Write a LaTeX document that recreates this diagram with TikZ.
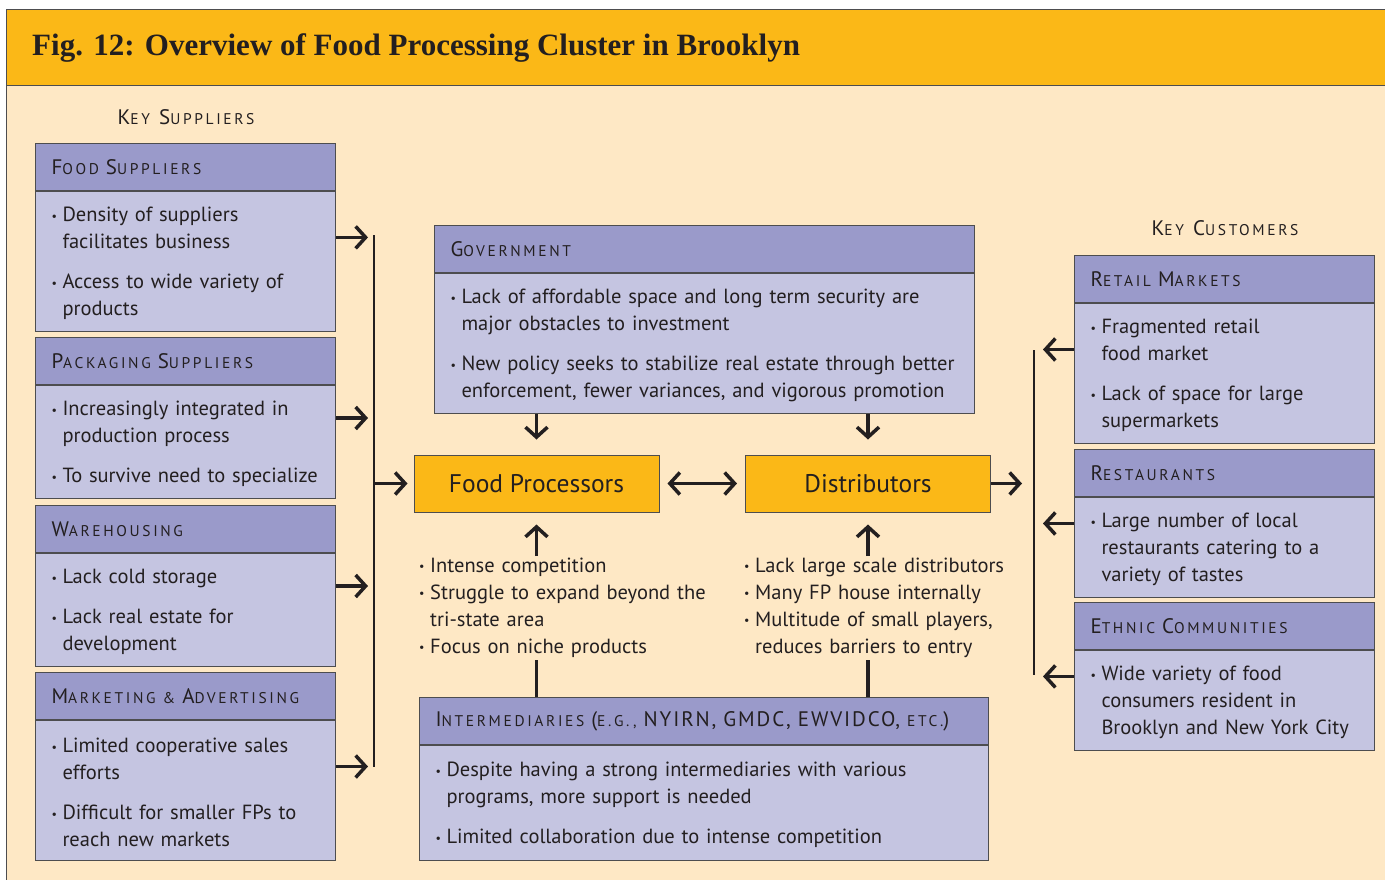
\documentclass[tikz,border=0pt]{standalone}
\usepackage{fontspec}
\setmainfont{PT Sans}
\newfontfamily\titlefont{Liberation Serif}
\newfontfamily\capsfont[LetterSpace=17]{PT Sans}
\usetikzlibrary{positioning,calc,arrows.meta}

\definecolor{banner}{HTML}{FBB817}
\definecolor{cream}{HTML}{FEE8C5}
\definecolor{hdrfill}{HTML}{9A9ACA}
\definecolor{bodyfill}{HTML}{C5C5E1}
\definecolor{edge}{HTML}{4D4D4F}
\definecolor{ink}{HTML}{231F20}

% small-cap part of a heading
\newcommand\smc[1]{{\fontsize{15.5}{15.5}\selectfont #1}}
% bullet item with hanging indent
\newcommand\bl[1]{\par\noindent\hangindent=11pt\hangafter=1\makebox[11pt][l]{\raisebox{1.5pt}{\fontsize{12}{12}\selectfont\textbullet}}#1\par}
\newcommand\gap{\vspace{13pt}}

\begin{document}
\begin{tikzpicture}[x=1pt,y=-1pt,
    hdr/.style={draw=edge, fill=hdrfill, text=ink, line width=1pt,
      font=\capsfont\fontsize{21}{21}\selectfont, text width=#1,
      inner xsep=16pt, minimum height=47pt, align=left, anchor=north west},
    hdr/.default=268pt,
    bdy/.style={draw=edge, fill=bodyfill, text=ink, line width=1pt,
      font=\fontsize{20.5}{27}\selectfont, text width=#1,
      inner xsep=16pt, align=left, execute at end node={\vspace{8pt}}},
    bdy/.default=268pt,
    core/.style={draw=edge, fill=banner, text=ink, line width=1pt,
      font=\fontsize{25.5}{25.5}\selectfont, minimum width=245pt, minimum height=57pt},
    note/.style={text=ink, font=\fontsize{20.5}{27}\selectfont, text width=#1,
      inner sep=0pt, align=left, anchor=north west},
    label/.style={text=ink, font=\capsfont\fontsize{21}{21}\selectfont},
    arr/.style={draw=ink, line width=3.5pt, -{Straight Barb[length=10pt,width=22pt,line width=3.5pt]}},
    arrs/.style={draw=ink, line width=3.5pt, {Straight Barb[length=10pt,width=22pt,line width=3.5pt]}-{Straight Barb[length=10pt,width=22pt,line width=3.5pt]}},
    stem/.style={draw=ink, line width=3.5pt},
    bar/.style={draw=ink, line width=1.2pt}]

\useasboundingbox (0,0) rectangle (1385,879);
\fill[white] (0,0) rectangle (1385,879);
\draw[edge, fill=cream, line width=1pt] (6,9) rectangle (1400,900);
\draw[edge, fill=banner, line width=1pt] (6,9) rectangle (1400,85);
\node[anchor=west, inner sep=0pt, text=ink, font=\titlefont\bfseries\fontsize{31}{31}\selectfont] (title) at (32,48)
  {Fig. 12: Overview of Food Processing Cluster in Brooklyn};

% key suppliers
\node[label] (ksup) at (186,117) {K\smc{EY} S\smc{UPPLIERS}};
\node[hdr] (fsh) at (35,143) {F\smc{OOD} S\smc{UPPLIERS}};
\node[bdy, below=0pt of fsh, minimum height=139pt] (fsb)
  {\bl{Density of suppliers\newline facilitates business}\gap\bl{Access to wide variety of\newline products}};
\node[hdr] (psh) at (35,337) {P\smc{ACKAGING} S\smc{UPPLIERS}};
\node[bdy, below=0pt of psh, minimum height=113pt] (psb)
  {\bl{Increasingly integrated in\newline production process}\gap\bl{To survive need to specialize}};
\node[hdr] (whh) at (35,505) {W\smc{AREHOUSING}};
\node[bdy, below=0pt of whh, minimum height=113pt] (whb)
  {\bl{Lack cold storage}\gap\bl{Lack real estate for\newline development}};
\node[hdr] (mah) at (35,672) {M\smc{ARKETING} \smc{\&} A\smc{DVERTISING}};
\node[bdy, below=0pt of mah, minimum height=140pt] (mab)
  {\bl{Limited cooperative sales\newline efforts}\gap\bl{Difficult for smaller FPs to\newline reach new markets}};

% government
\node[hdr=508pt] (govh) at (434,225) {G\smc{OVERNMENT}};
\node[bdy=508pt, below=0pt of govh, minimum height=140pt] (govb)
  {\bl{Lack of affordable space and long term security are\newline major obstacles to investment}\gap
   \bl{New policy seeks to stabilize real estate through better\newline enforcement, fewer variances, and vigorous promotion}};

% core of the cluster
\node[core] (fp) at (536.5,483.5) {Food Processors};
\node[core] (dist) at (868,483.5) {Distributors};

\node[note=300pt] (fpnote) at (419,545)
  {\bl{Intense competition}\bl{Struggle to expand beyond the\newline tri-state area}\bl{Focus on niche products}};
\node[note=280pt] (distnote) at (744,545)
  {\bl{Lack large scale distributors}\bl{Many FP house internally}\bl{Multitude of small players,\newline reduces barriers to entry}};
\coordinate (fpup) at ($(fpnote.north -| fp.south)+(0,11)$);
\coordinate (distup) at ($(distnote.north -| dist.south)+(0,11)$);

% intermediaries
\node[hdr=537pt] (inth) at (419,697)
  {I\smc{NTERMEDIARIES} (\smc{E.G.,} {\addfontfeature{LetterSpace=9}\fontsize{21}{21}\selectfont NYIRN, GMDC, EWVIDCO}, \smc{ETC.})};
\node[bdy=537pt, below=0pt of inth, minimum height=115pt] (intb)
  {\bl{Despite having a strong intermediaries with various\newline programs, more support is needed}\gap
   \bl{Limited collaboration due to intense competition}};

% key customers
\node[label] (kcus) at (1225,228) {K\smc{EY} C\smc{USTOMERS}};
\node[hdr] (rmh) at (1074,255) {R\smc{ETAIL} M\smc{ARKETS}};
\node[bdy, below=0pt of rmh, minimum height=140pt] (rmb)
  {\bl{Fragmented retail\newline food market}\gap\bl{Lack of space for large\newline supermarkets}};
\node[hdr] (reh) at (1074,449) {R\smc{ESTAURANTS}};
\node[bdy, below=0pt of reh, minimum height=100pt] (reb)
  {\bl{Large number of local\newline restaurants catering to a\newline variety of tastes}};
\node[hdr] (ech) at (1074,602) {E\smc{THNIC} C\smc{OMMUNITIES}};
\node[bdy, below=0pt of ech, minimum height=99pt] (ecb)
  {\bl{Wide variety of food\newline consumers resident in\newline Brooklyn and New York City}};

% supplier side
\coordinate (sbarT) at (374,235);
\coordinate (sbarB) at (374,767);
\draw[bar] (sbarT) -- (sbarB);
\draw[arr] ($(fsh.north east)!.5!(fsb.south east)$) -- ++(32,0);
\draw[arr] ($(psh.north east)!.5!(psb.south east)$) -- ++(32,0);
\draw[arr] ($(whh.north east)!.5!(whb.south east)$) -- ++(32,0);
\draw[arr] ($(mah.north east)!.5!(mab.south east)$) -- ++(32,0);
\draw[arr, shorten >=6pt] (sbarT |- fp.west) -- (fp.west);

% centre
\draw[arrs, shorten <=8pt, shorten >=8pt] (fp.east) -- (dist.west);
\draw[arr, shorten >=15pt] (govb.south -| fp.north) -- (fp.north);
\draw[arr, shorten >=15pt] (govb.south -| dist.north) -- (dist.north);
\draw[arr, shorten >=12pt] (fpup) -- (fp.south);
\draw[arr, shorten >=12pt] (distup) -- (dist.south);
\draw[stem] (inth.north -| fp.south) -- ++(0,-37);
\draw[stem] (inth.north -| dist.south) -- ++(0,-37);

% customer side
\coordinate (cbarT) at (1034,350);
\coordinate (cbarB) at (1034,675);
\draw[bar] (cbarT) -- (cbarB);
\draw[arr, shorten >=12pt] (dist.east) -- (cbarT |- dist.east);
\draw[arr] ($(rmh.north west)!.5!(rmb.south west)$) -- ++(-31,0);
\draw[arr] ($(reh.north west)!.5!(reb.south west)$) -- ++(-31,0);
\draw[arr] ($(ech.north west)!.5!(ecb.south west)$) -- ++(-31,0);
\end{tikzpicture}
\end{document}
